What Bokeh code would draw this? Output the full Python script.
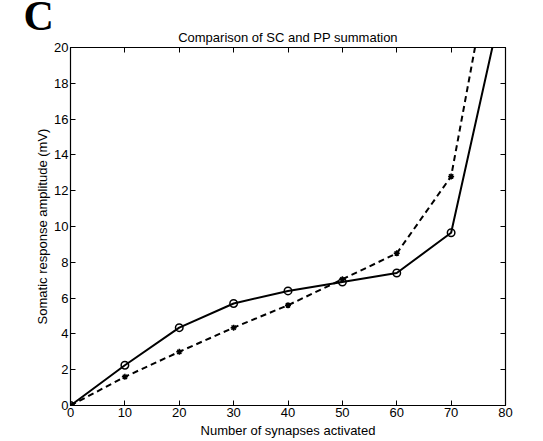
from bokeh.plotting import figure
from bokeh.models import FixedTicker, LinearAxis, Title, Range1d
from bokeh.embed import file_html
from bokeh.resources import INLINE

n_syn = [0, 10, 20, 30, 40, 50, 60, 70, 80]
sc_amp = [0, 2.25, 4.35, 5.7, 6.4, 6.9, 7.4, 9.65, 23.3]
pp_amp = [0, 1.6, 3.0, 4.35, 5.6, 7.05, 8.5, 12.8, 29.2]
x_ticks = [0, 10, 20, 30, 40, 50, 60, 70, 80]
y_ticks = [0, 2, 4, 6, 8, 10, 12, 14, 16, 18, 20]

FONT = "Liberation Sans"

p = figure(width=543, height=441, output_backend="svg", toolbar_location=None,
           x_range=Range1d(0, 80), y_range=Range1d(0, 20),
           x_axis_label="Number of synapses activated",
           y_axis_label="Somatic response amplitude (mV)",
           min_border_left=70, min_border_right=38, min_border_top=47, min_border_bottom=36,
           title_location=None)

p.xgrid.visible = False
p.ygrid.visible = False
p.outline_line_color = "black"
p.outline_line_width = 1.2

for ax, ticks in ((p.xaxis[0], x_ticks), (p.yaxis[0], y_ticks)):
    ax.ticker = FixedTicker(ticks=ticks)
    ax.major_tick_in = 5
    ax.major_tick_out = 0
    ax.minor_tick_line_color = None
    ax.major_label_text_font = FONT
    ax.major_label_text_font_size = "13px"
    ax.major_label_text_color = "black"
    ax.axis_label_text_font = FONT
    ax.axis_label_text_font_size = "13px"
    ax.axis_label_text_font_style = "normal"
    ax.axis_label_text_color = "black"
    ax.axis_line_color = "black"
    ax.major_tick_line_color = "black"
    ax.major_label_standoff = 2
    ax.axis_label_standoff = 1

p.xaxis[0].axis_label_standoff = 3

for loc, ticks in (("right", y_ticks), ("above", x_ticks)):
    a = LinearAxis(ticker=FixedTicker(ticks=ticks))
    a.major_tick_in = 5
    a.major_tick_out = 0
    a.minor_tick_line_color = None
    a.major_label_text_font_size = "0px"
    a.major_label_text_alpha = 0
    a.major_label_standoff = 4 if loc == "above" else 0
    a.axis_line_color = "black"
    a.major_tick_line_color = "black"
    p.add_layout(a, loc)

main_title = Title(text="Comparison of SC and PP summation", align="center",
                   text_font=FONT, text_font_size="13px", text_font_style="normal",
                   text_color="black", standoff=6)
p.add_layout(main_title, "above")

panel_label = Title(text="C", align="left", offset=-47, standoff=-33,
                    vertical_align="top",
                    text_font="Liberation Serif", text_font_size="42px",
                    text_font_style="bold", text_color="black")
p.add_layout(panel_label, "above")

p.line(n_syn, sc_amp, line_color="black", line_width=2)
p.scatter(n_syn, sc_amp, marker="circle", size=7.5, fill_color=None, line_color="black", line_width=1.5)
p.line(n_syn, pp_amp, line_color="black", line_width=2, line_dash="6 4")
p.scatter(n_syn, pp_amp, marker="asterisk", size=6, line_color="black", line_width=1.5)

open("out.html", "w").write(file_html(p, INLINE))
